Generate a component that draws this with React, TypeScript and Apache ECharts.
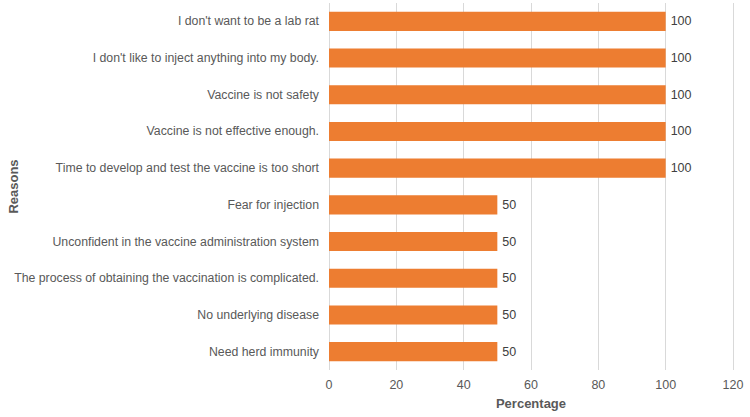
import React, { useEffect, useRef } from "react";
import * as echarts from "echarts";

const categories = [
  "I don't want to be a lab rat",
  "I don't like to inject anything into my body.",
  "Vaccine is not safety",
  "Vaccine is not effective enough.",
  "Time to develop and test the vaccine is too short",
  "Fear for injection",
  "Unconfident in the vaccine administration system",
  "The process of obtaining the vaccination is complicated.",
  "No underlying disease",
  "Need herd immunity",
];
const values = [100, 100, 100, 100, 100, 50, 50, 50, 50, 50];
const xTicks = [0, 20, 40, 60, 80, 100, 120];

export default function App() {
  const ref = useRef<HTMLDivElement>(null);
  useEffect(() => {
    if (!ref.current) return;
    const chart = echarts.init(ref.current, undefined, { renderer: "svg" });
    const font = "'Liberation Sans', Arial, sans-serif";
    chart.setOption({
      animation: false,
      textStyle: { fontFamily: font },
      grid: { left: 329, right: 17, top: 3, bottom: 47, containLabel: false, outerBoundsMode: "none" },
      xAxis: {
        type: "value",
        min: xTicks[0],
        max: xTicks[xTicks.length - 1],
        interval: 20,
        name: "Percentage",
        nameLocation: "middle",
        nameGap: 27,
        nameMoveOverlap: false,
        nameTextStyle: { fontSize: 13, fontWeight: "bold", color: "#595959", fontFamily: font },
        axisLine: { show: false },
        axisTick: { show: false },
        axisLabel: { fontSize: 12.5, color: "#595959", margin: 8, fontFamily: font },
        splitLine: { show: true, lineStyle: { color: "#d9d9d9", width: 1 } },
      },
      yAxis: {
        type: "category",
        inverse: true,
        data: categories,
        name: "Reasons",
        nameLocation: "middle",
        nameGap: 309,
        nameMoveOverlap: false,
        nameRotate: 90,
        nameTextStyle: { fontSize: 13, fontWeight: "bold", color: "#595959", fontFamily: font },
        axisLine: { show: false },
        axisTick: { show: false },
        axisLabel: { fontSize: 12.3, color: "#595959", margin: 10, fontFamily: font },
      },
      series: [
        {
          type: "bar",
          data: values,
          barWidth: "52%",
          itemStyle: { color: "#ED7D31" },
          label: {
            show: true,
            position: "right",
            distance: 5,
            fontSize: 12.5,
            color: "#404040",
            fontFamily: font,
          },
        },
      ],
    });
    return () => chart.dispose();
  }, []);
  return <div ref={ref} style={{ width: 750, height: 417, position: "absolute", left: 0, top: 0 }} />;
}
